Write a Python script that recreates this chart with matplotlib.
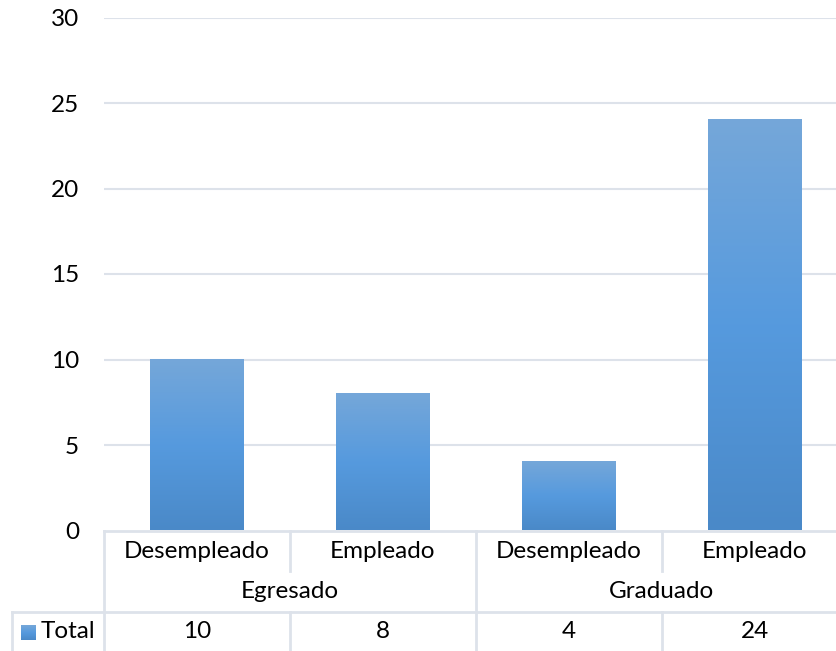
import numpy as np
import matplotlib.pyplot as plt
from matplotlib.colors import LinearSegmentedColormap
from matplotlib.transforms import blended_transform_factory

groups = ["Egresado", "Graduado"]
subcats = ["Desempleado", "Empleado", "Desempleado", "Empleado"]
values = [10, 8, 4, 24]
series_name = "Total"
yticks = [0, 5, 10, 15, 20, 25, 30]

plt.rcParams['font.family'] = ['Lato', 'DejaVu Sans']
FS = 17.5

W, H = 836, 651
fig = plt.figure(figsize=(W / 100, H / 100), dpi=100)

# axes area in pixels (x from 104 to 848, y from 17.5 to 530.5)
ax = fig.add_axes([104 / W, (H - 530.5) / H, 744 / W, 513 / H])

grad = LinearSegmentedColormap.from_list("bar", ["#4a89c8", "#569ade", "#75a7d9"])
bw = 0.505
x = np.arange(len(values))
for xi, v in zip(x, values):
    img = np.linspace(0, 1, 256).reshape(-1, 1)
    ax.imshow(img, cmap=grad, origin="lower", aspect="auto",
              extent=[xi - bw / 2, xi + bw / 2, 0, v], zorder=3)
ax.set_xlim(-0.5, len(values) - 0.5)
ax.set_ylim(0, 30)

for t in yticks[1:]:
    ax.axhline(t, color="#dde2ea", lw=1.5, zorder=1)

for s in ax.spines.values():
    s.set_visible(False)
ax.set_xticks([])
ax.set_yticks(yticks)
ax.tick_params(axis="y", length=0, pad=18, labelsize=FS)

# data table under the chart
tr = blended_transform_factory(ax.transData, fig.transFigure)
lc = "#dde2ea"
def fy(py):
    return (H - py) / H

y_top, y_mid, y_row, y_bot = 530.5, 571, 611.5, 651
x_far = -0.5 - 92 / 186
ax.plot([-0.5, 3.5], [fy(y_top)] * 2, color=lc, lw=2, transform=tr, clip_on=False)
ax.plot([x_far, 3.5], [fy(y_row)] * 2, color=lc, lw=2, transform=tr, clip_on=False)
ax.plot([-0.5, -0.5], [fy(y_top), fy(y_bot)], color=lc, lw=2, transform=tr, clip_on=False)
ax.plot([x_far, x_far], [fy(y_row), fy(y_bot)], color=lc, lw=2, transform=tr, clip_on=False)
ax.plot([1.5, 1.5], [fy(y_top), fy(y_bot)], color=lc, lw=2, transform=tr, clip_on=False)
for xv in [0.5, 2.5]:
    ax.plot([xv, xv], [fy(y_top), fy(y_mid)], color=lc, lw=2, transform=tr, clip_on=False)
    ax.plot([xv, xv], [fy(y_row), fy(y_bot)], color=lc, lw=2, transform=tr, clip_on=False)

for xi, lab in zip(x, subcats):
    ax.text(xi, fy(551), lab, transform=tr, ha="center", va="center", fontsize=FS)
for gi, g in enumerate(groups):
    ax.text(gi * 2 + 0.5, fy(591), g, transform=tr, ha="center", va="center", fontsize=FS)
for xi, v in zip(x, values):
    ax.text(xi, fy(632), str(v), transform=tr, ha="center", va="center", fontsize=FS)

# legend key in the table row
kax = fig.add_axes([21 / W, (H - 640) / H, 15 / W, 15 / H])
kax.imshow(np.linspace(0, 1, 64).reshape(-1, 1), cmap=grad, origin="lower", aspect="auto")
kax.axis("off")
fig.text(41 / W, fy(632), series_name, ha="left", va="center", fontsize=FS)

fig.savefig("out.png", dpi=100)
